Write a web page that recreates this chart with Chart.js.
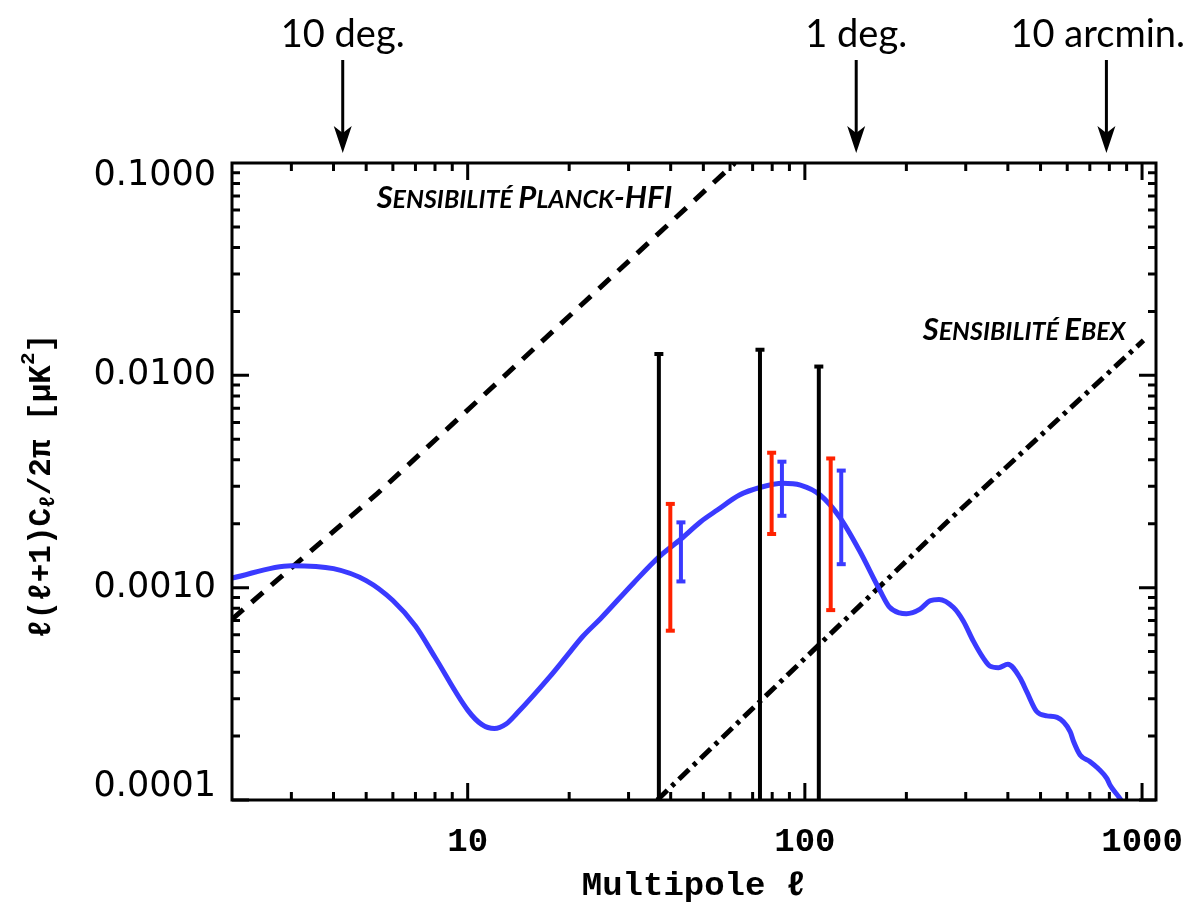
<!DOCTYPE html>
<html>
<head>
<meta charset="utf-8">
<script src="https://cdn.jsdelivr.net/npm/chart.js@4.4.1/dist/chart.umd.min.js"></script>
<style>
  html, body { margin: 0; padding: 0; background: #fff; }
  #wrap { width: 1189px; height: 913px; }
</style>
</head>
<body>
<div id="wrap"><canvas id="spectrum" width="1189" height="913"></canvas></div>
<script>
// B-mode model spectrum, l(l+1)Cl/2pi in uK^2
const ell = [2, 3, 4, 5, 6, 7, 8, 10, 11, 12, 13, 14, 17.5, 19.6, 21.9, 24.8, 31, 37, 43, 49, 55, 64, 74, 86, 97,
             111, 127, 145, 167, 178, 191, 200, 219, 235, 250, 276, 295, 316, 338, 354, 375, 400, 435, 455, 487,
             522, 560, 612, 627, 655, 700, 740, 787, 805, 862, 880];
const clBB = [0.00111, 0.00127, 0.00123, 0.00108, 0.00087, 0.00066, 0.00047, 0.000265, 0.000227, 0.000217,
              0.000228, 0.000256, 0.00038, 0.000473, 0.000587, 0.000716, 0.00105, 0.0014, 0.0017, 0.00204,
              0.00232, 0.00273, 0.00297, 0.0031, 0.00304, 0.00273, 0.00214, 0.0015, 0.00097, 0.000812,
              0.00076, 0.000754, 0.00079, 0.000867, 0.00088, 0.000806, 0.000697, 0.00056, 0.000467, 0.000427,
              0.00042, 0.000436, 0.000375, 0.000324, 0.000261, 0.000249, 0.000245, 0.00021, 0.000188,
              0.000163, 0.000152, 0.000141, 0.000126, 0.000117, 0.000101, 0.000095];

// sensitivity curves
const planckEll = [2, 5.4, 62];
const planckNoise = [0.00071, 0.00278, 0.1];
const ebexEll = [36.5, 265, 1010];
const ebexNoise = [0.0001, 0.00205, 0.0146];

// band powers: lower / upper ends of each error bar
const blackEll = [36.9, 73.6, 110];
const blackLo = [0.0001, 0.0001, 0.0001];
const blackHi = [0.0126, 0.0132, 0.0110];
const redEll = [39.9, 79.7, 119.3];
const redLo = [0.000627, 0.00179, 0.000784];
const redHi = [0.00248, 0.00432, 0.00406];
const blueEll = [42.9, 85.5, 128.2];
const blueLo = [0.00107, 0.00218, 0.00129];
const blueHi = [0.00203, 0.00392, 0.00356];

const xTicks = [10, 100, 1000];
const yTicks = [0.0001, 0.001, 0.01, 0.1];

// angular scales marked above the plot
const angleLabels = ['10 deg.', '1 deg.', '10 arcmin.'];
const angleEll = [4.26, 142, 784];

const BLUE = '#3a3aff';
const RED = '#ff2200';

function pts(xs, ys) {
  return xs.map((x, i) => ({ x: x, y: ys[i] }));
}

function errorBars(xs, lo, hi, color, bottomCap) {
  return xs.map((x, i) => ({
    data: [{ x: x, y: lo[i] }, { x: x, y: hi[i] }],
    showLine: true,
    borderColor: color,
    borderWidth: 4,
    pointStyle: 'line',
    pointRadius: [bottomCap ? 4.5 : 0, 4.5],
    pointBorderWidth: 4,
    pointBorderColor: color,
    clip: 0
  }));
}

// inward ticks on all four sides plus the box
const frame = {
  id: 'frame',
  afterDatasetsDraw(chart) {
    const { ctx, chartArea: a, scales: { x, y } } = chart;
    ctx.save();
    ctx.strokeStyle = '#000';
    ctx.lineWidth = 3;
    ctx.beginPath();
    for (let d = 0; d <= 3; d++) {
      for (let m = 1; m <= 9; m++) {
        const v = m * Math.pow(10, d);
        if (v <= x.min * 1.001 || v >= x.max) continue;
        const px = x.getPixelForValue(v);
        const len = m === 1 ? 17 : 8;
        ctx.moveTo(px, a.bottom); ctx.lineTo(px, a.bottom - len);
        ctx.moveTo(px, a.top); ctx.lineTo(px, a.top + len);
      }
    }
    for (let d = -4; d <= -2; d++) {
      for (let m = 1; m <= 9; m++) {
        const v = m * Math.pow(10, d);
        const py = y.getPixelForValue(v);
        const len = m === 1 ? 17 : 8;
        ctx.moveTo(a.left, py); ctx.lineTo(a.left + len, py);
        ctx.moveTo(a.right, py); ctx.lineTo(a.right - len, py);
      }
    }
    ctx.stroke();
    ctx.strokeRect(a.left, a.top, a.right - a.left, a.bottom - a.top);
    ctx.restore();
  }
};

function runsWidth(ctx, runs, big, small) {
  let w = 0;
  for (const [t, b] of runs) {
    ctx.font = `italic bold ${b ? big : small}px Lato, "Open Sans", sans-serif`;
    w += ctx.measureText(t).width;
  }
  return w;
}

function drawRuns(ctx, runs, x, y, big, small) {
  let cx = x;
  for (const [t, b] of runs) {
    ctx.font = `italic bold ${b ? big : small}px Lato, "Open Sans", sans-serif`;
    ctx.fillText(t, cx, y);
    cx += ctx.measureText(t).width;
  }
}

const annotations = {
  id: 'annotations',
  afterDraw(chart) {
    const { ctx, scales: { x, y } } = chart;
    const W = chart.width;
    ctx.save();
    ctx.fillStyle = '#000';
    ctx.strokeStyle = '#000';

    // angular scale arrows
    ctx.font = '38px Lato, "Open Sans", sans-serif';
    ctx.textAlign = 'center';
    ctx.textBaseline = 'middle';
    angleLabels.forEach((lab, i) => {
      const px = x.getPixelForValue(angleEll[i]);
      const w = ctx.measureText(lab).width;
      const tx = Math.min(px, W - 4 - w / 2);
      ctx.fillText(lab, tx, 35);
      ctx.lineWidth = 3;
      ctx.beginPath();
      ctx.moveTo(px, 60);
      ctx.lineTo(px, 136);
      ctx.stroke();
      ctx.beginPath();
      ctx.moveTo(px, 153);
      ctx.lineTo(px - 9, 126);
      ctx.lineTo(px, 133);
      ctx.lineTo(px + 9, 126);
      ctx.closePath();
      ctx.fill();
    });

    // sensitivity labels in small caps
    ctx.textAlign = 'left';
    ctx.textBaseline = 'alphabetic';
    const planckRuns = [['S', 1], ['ENSIBILITÉ ', 0], ['P', 1], ['LANCK', 0], ['-HFI', 1]];
    const ebexRuns = [['S', 1], ['ENSIBILITÉ ', 0], ['E', 1], ['BEX', 0]];
    drawRuns(ctx, planckRuns, x.getPixelForValue(5.37), y.getPixelForValue(0.0684) + 10, 31, 25);
    const ew = runsWidth(ctx, ebexRuns, 31, 25);
    drawRuns(ctx, ebexRuns, x.getPixelForValue(893) - ew, y.getPixelForValue(0.01617) + 9, 31, 25);

    // y axis title with subscript and superscript
    const base = 'bold 31px "Liberation Mono", monospace';
    const sub = 'bold 21px "Liberation Mono", monospace';
    const parts = [
      ['ℓ(ℓ+1)C', base, 0],
      ['ℓ', sub, 7],
      ['/2π [μK', base, 0],
      ['2', sub, -13],
      [']', base, 0]
    ];
    let total = 0;
    for (const [t, f] of parts) { ctx.font = f; total += ctx.measureText(t).width; }
    ctx.translate(42, 486);
    ctx.rotate(-Math.PI / 2);
    ctx.textBaseline = 'middle';
    let cx = -total / 2;
    for (const [t, f, dy] of parts) {
      ctx.font = f;
      ctx.fillText(t, cx, dy);
      cx += ctx.measureText(t).width;
    }
    ctx.restore();
  }
};

const datasets = [
  ...errorBars(blueEll, blueLo, blueHi, BLUE, true),
  ...errorBars(redEll, redLo, redHi, RED, true),
  ...errorBars(blackEll, blackLo, blackHi, '#000', false),
  {
    label: 'BB',
    data: pts(ell, clBB),
    showLine: true,
    borderColor: BLUE,
    borderWidth: 5,
    pointRadius: 0,
    cubicInterpolationMode: 'monotone',
    clip: 0
  },
  {
    label: 'Planck-HFI',
    data: pts(planckEll, planckNoise),
    showLine: true,
    borderColor: '#000',
    borderWidth: 5,
    borderDash: [15, 11],
    pointRadius: 0,
    clip: 0
  },
  {
    label: 'EBEX',
    data: pts(ebexEll, ebexNoise),
    showLine: true,
    borderColor: '#000',
    borderWidth: 5,
    borderDash: [14, 6, 4, 6],
    pointRadius: 0,
    clip: 0
  }
];

new Chart(document.getElementById('spectrum'), {
  type: 'scatter',
  data: { datasets: datasets },
  options: {
    responsive: false,
    animation: false,
    devicePixelRatio: 1,
    events: [],
    layout: { padding: { top: 163, right: 33, left: 0, bottom: 0 } },
    plugins: { legend: { display: false }, tooltip: { enabled: false } },
    scales: {
      x: {
        type: 'logarithmic',
        min: 2,
        max: 1100,
        grid: { display: false, drawTicks: false },
        border: { display: false },
        afterFit: (s) => { s.height = 113; s.paddingLeft = 0; s.paddingRight = 0; },
        afterBuildTicks: (s) => { s.ticks = xTicks.map(v => ({ value: v })); },
        ticks: {
          padding: 22,
          color: '#000',
          font: { family: '"Liberation Mono", monospace', weight: 'bold', size: 34 },
          callback: (v) => String(v)
        },
        title: {
          display: true,
          text: 'Multipole ℓ',
          color: '#000',
          font: { family: '"Liberation Mono", monospace', weight: 'bold', size: 34 },
          padding: { top: 0, bottom: 6 }
        }
      },
      y: {
        type: 'logarithmic',
        min: 0.0001,
        max: 0.1,
        grid: { display: false, drawTicks: false },
        border: { display: false },
        afterFit: (s) => { s.width = 232; s.paddingTop = 0; s.paddingBottom = 0; },
        afterBuildTicks: (s) => { s.ticks = yTicks.map(v => ({ value: v })); },
        ticks: {
          padding: 16,
          color: '#000',
          font: { family: '"DejaVu Sans", sans-serif', size: 35, lineHeight: 0.75 },
          callback: (v) => {
            const s = v.toFixed(4);
            if (v > 0.05) return ['', s];
            if (v < 0.0002) return [s, ''];
            return s;
          }
        }
      }
    }
  },
  plugins: [frame, annotations]
});
</script>
</body>
</html>
